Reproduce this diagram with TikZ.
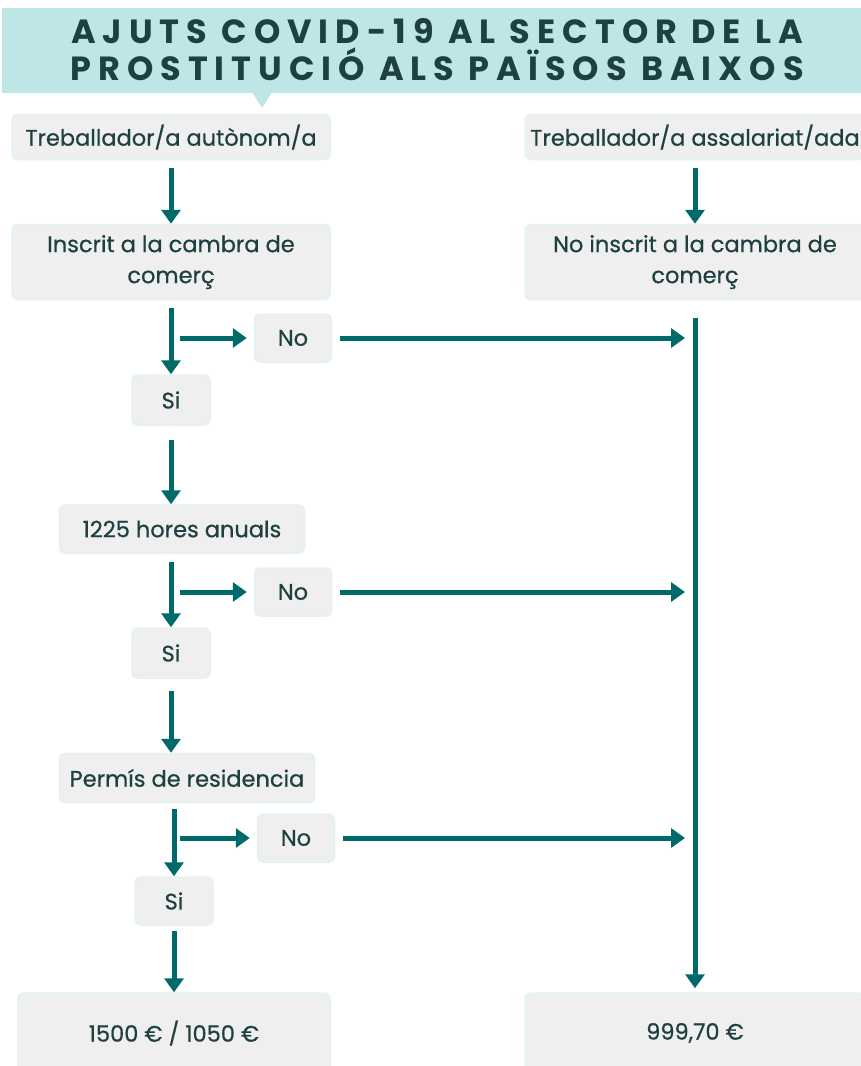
\documentclass[tikz,border=0pt]{standalone}
\usepackage{fontspec}
\setmainfont{Poppins}[FakeBold=0.6]
\newfontfamily\titlefont[LetterSpace=21]{Poppins}
\usetikzlibrary{arrows.meta}
\definecolor{band}{HTML}{BFE6E6}
\definecolor{ink}{HTML}{1E4040}
\definecolor{boxfill}{HTML}{EFEFEF}
\definecolor{boxline}{HTML}{E2F3F3}
\definecolor{teal}{HTML}{006A6A}

\begin{document}
\begin{tikzpicture}[x=1pt,y=-1pt,
  box/.style={draw=boxline,line width=1.5pt,fill=boxfill,rounded corners=5pt,
    inner sep=0pt,align=center,text=ink,font=\fontsize{22.5}{31}\selectfont},
  arr/.style={teal,line width=5pt,-{Triangle[width=19pt,length=14pt]}}]
\useasboundingbox (0,0) rectangle (861,1066);
% title band
\node[fill=band,minimum width=870pt,minimum height=85pt,inner sep=0pt,
  text=ink,align=center,font=\titlefont\bfseries\fontsize{33.5}{37}\selectfont]
  (title) at (437,50) {AJUTS COVID-19 AL SECTOR DE LA\\PROSTITUCIÓ ALS PAÏSOS BAIXOS};
\fill[band] (252,92)--(272,92)--(262,108)--cycle;
% left column
\node[box,minimum width=318pt,minimum height=45pt] (autL) at (171,137) {Treballador/a autònom/a};
\node[box,minimum width=318pt,minimum height=75pt] (insL) at (171,262) {Inscrit a la cambra de\\comerç};
\node[box,minimum width=78pt,minimum height=50pt] (si1) at (171,400) {Si};
\node[box,minimum width=245pt,minimum height=48pt] (hores) at (182,529) {1225 hores anuals};
\node[box,minimum width=78pt,minimum height=50pt] (si2) at (171,653) {Si};
\node[box,minimum width=255pt,minimum height=49pt] (perm) at (187,778) {Permís de residencia};
\node[box,minimum width=78pt,minimum height=48pt] (si3) at (174,901) {Si};
\node[box,minimum width=312pt,minimum height=80pt] (resL) at (174,1033) {1500 € / 1050 €};
% no boxes
\node[box,minimum width=77pt,minimum height=48pt] (no1) at (293,338) {No};
\node[box,minimum width=77pt,minimum height=48pt] (no2) at (293,592) {No};
\node[box,minimum width=77pt,minimum height=48pt] (no3) at (296,838) {No};
% right column
\node[box,minimum width=340pt,minimum height=45pt] (autR) at (695,137) {Treballador/a assalariat/ada};
\node[box,minimum width=340pt,minimum height=75pt] (insR) at (695,262) {No inscrit a la cambra de\\comerç};
\node[box,minimum width=340pt,minimum height=80pt] (resR) at (695,1033) {999,70 €};
\coordinate (vtop) at (695,318);
\coordinate (b1) at (180,338);
\coordinate (b2) at (180,592);
\coordinate (b3) at (180,838);
% arrows
\draw[arr,shorten <=8pt] (autL.south) -- (insL.north);
\draw[arr,shorten <=8pt] (insL.south) -- (si1.north);
\draw[arr,shorten <=14pt] (si1.south) -- (si1.south |- hores.north);
\draw[arr,shorten <=8pt] (hores.south -| si2) -- (si2.north);
\draw[arr,shorten <=12pt] (si2.south) -- (si2.south |- perm.north);
\draw[arr,shorten <=6pt] (perm.south -| si3) -- (si3.north);
\draw[arr,shorten <=5pt] (si3.south) -- (resL.north -| si3);
\draw[arr,shorten <=8pt] (autR.south) -- (insR.north);
\draw[arr,shorten >=7pt] (b1) -- (no1.west);
\draw[arr,shorten >=7pt] (b2) -- (no2.west);
\draw[arr,shorten >=7pt] (b3) -- (no3.west);
\draw[arr,shorten <=8pt,shorten >=10pt] (no1.east) -- (no1.east -| vtop);
\draw[arr,shorten <=8pt,shorten >=10pt] (no2.east) -- (no2.east -| vtop);
\draw[arr,shorten <=8pt,shorten >=10pt] (no3.east) -- (no3.east -| vtop);
\draw[arr,shorten >=4pt] (vtop) -- (resR.north);
\end{tikzpicture}
\end{document}
